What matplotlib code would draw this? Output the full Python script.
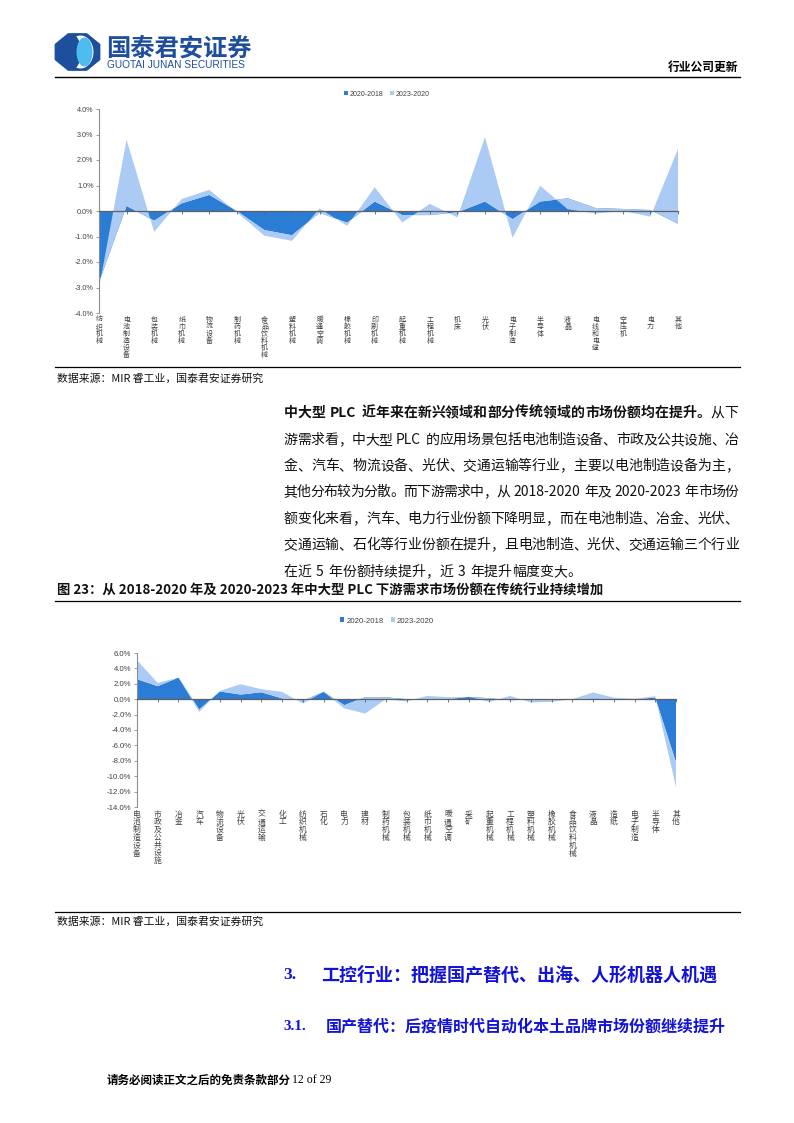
import matplotlib
matplotlib.use('Agg')
import matplotlib.pyplot as plt
from matplotlib.ticker import PercentFormatter, MultipleLocator
from matplotlib.patches import Polygon, Ellipse
from matplotlib.lines import Line2D
import numpy as np

W, H = 794, 1123
CJK = ['Noto Sans CJK SC', 'DejaVu Sans']
plt.rcParams['font.family'] = ['Liberation Sans', 'Noto Sans CJK SC', 'DejaVu Sans']
plt.rcParams['axes.unicode_minus'] = False

# ---------------- data ----------------
series_names = ['2020-2018', '2023-2020']

cats1 = ['纺织机械', '电池制造设备', '包装机械', '纸巾机械', '物流设备', '制药机械', '食品饮料机械',
         '塑料机械', '暖通空调', '橡胶机械', '印刷机械', '起重机械', '工程机械', '机床', '光伏',
         '电子制造', '半导体', '液晶', '电线和电缆', '空压机', '电力', '其他']
d1 = [-2.80, 0.20, -0.38, 0.30, 0.63, 0.00, -0.75, -0.95, -0.07, -0.46, 0.37,
      -0.16, -0.16, -0.05, 0.37, -0.32, 0.37, 0.50, 0.12, 0.08, 0.04, -0.50]
l1 = [-0.22, 2.60, -0.44, 0.17, 0.20, -0.05, -0.22, -0.22, 0.17, -0.12, 0.56,
      -0.29, 0.44, -0.20, 2.53, -0.73, 0.62, -0.43, -0.22, -0.08, -0.26, 2.93]

cats2 = ['电池制造设备', '市政及公共设施', '冶金', '汽车', '物流设备', '光伏', '交通运输', '化工',
         '纺织机械', '石化', '电力', '建材', '制药机械', '包装机械', '纸巾机械', '暖通空调', '采矿',
         '起重机械', '工程机械', '塑料机械', '橡胶机械', '食品饮料机械', '液晶', '造纸', '电子制造',
         '半导体', '其他']
d2 = [2.60, 1.69, 2.80, -1.34, 1.00, 0.60, 0.90, 0.10, -0.20, 0.95, -0.78, 0.26, 0.26, 0.00,
      0.00, 0.00, 0.30, 0.13, -0.13, -0.05, -0.05, 0.00, 0.10, 0.05, 0.00, 0.20, -8.20]
l2 = [2.45, 0.43, 0.00, -0.31, 0.08, 1.35, 0.40, 0.85, -0.36, 0.00, -0.42, -2.12, -0.26, -0.30,
      0.43, 0.26, 0.00, -0.48, 0.56, -0.38, -0.30, 0.00, 0.77, 0.15, 0.05, 0.19, -3.20]

DARK = '#2A7CD4'
LIGHT = '#ABCBF5'
BLUE_HEAD = '#1D4F9C'

fig = plt.figure(figsize=(W / 100, H / 100), dpi=100)
fig.patch.set_facecolor('white')

bg = fig.add_axes([0, 0, 1, 1], zorder=-5)
bg.set_xlim(0, W)
bg.set_ylim(H, 0)
bg.axis('off')


def fx(x):
    return x / W


def fy(y):
    return 1 - y / H


def hline(y, x0=55, x1=740, lw=0.9, color='black'):
    bg.add_line(Line2D([x0, x1], [y, y], color=color, lw=lw))


# ---------------- header ----------------
oct_pts = []
cx, cy, rx, ry = 77.5, 52, 21.5, 17.5
for k in range(8):
    a = np.pi / 8 + k * np.pi / 4
    oct_pts.append((cx + rx * np.cos(a) / np.cos(np.pi / 8), cy + ry * np.sin(a) / np.cos(np.pi / 8)))
bg.add_patch(Polygon(oct_pts, closed=True, facecolor=BLUE_HEAD, edgecolor=BLUE_HEAD, lw=2.0,
                     joinstyle='round'))
bg.add_patch(Ellipse((80.5, 52), 26, 33, facecolor='white', edgecolor='none'))
bg.add_patch(Ellipse((71.5, 52), 19, 36, facecolor=BLUE_HEAD, edgecolor='none'))
bg.add_patch(Ellipse((84.5, 52), 16, 29, facecolor='#4DBDF0', edgecolor='none'))

fig.text(fx(106), fy(48), '国泰君安证券', fontsize=17.5, fontweight='bold', color=BLUE_HEAD,
         family=CJK, va='center', ha='left')
fig.text(fx(107), fy(64.5), 'GUOTAI JUNAN SECURITIES', fontsize=7.3, color=BLUE_HEAD,
         family=['Liberation Sans'], va='center', ha='left')
fig.text(fx(738), fy(67), '行业公司更新', fontsize=8.5, fontweight='bold', color='black',
         family=CJK, va='center', ha='right')
hline(77, lw=1.0)


# ---------------- charts ----------------
def area_chart(left, top, right, bottom, cats, dark, light, ylim, ystep, tickfs, labfs, pitch,
               leg_xy, legfs):
    ax = fig.add_axes([fx(left), fy(bottom), (right - left) / W, (bottom - top) / H])
    x = np.arange(len(cats))
    polys = ax.stackplot(x, dark, light, colors=[DARK, LIGHT], linewidth=0)
    ax.set_xlim(0, len(cats) - 1)
    ax.set_ylim(*ylim)
    ax.yaxis.set_major_locator(MultipleLocator(ystep))
    ax.yaxis.set_major_formatter(PercentFormatter(xmax=100, decimals=1))
    for s in ['top', 'right']:
        ax.spines[s].set_visible(False)
    ax.spines['left'].set_color('#8c8c8c')
    ax.spines['left'].set_linewidth(0.8)
    ax.spines['bottom'].set_position(('data', 0))
    ax.spines['bottom'].set_color('#5f5f5f')
    ax.spines['bottom'].set_linewidth(0.9)
    ax.spines['bottom'].set_zorder(5)
    ax.set_xticks(x)
    ax.tick_params(axis='x', direction='out', length=2.5, width=0.6, color='#5f5f5f', labelbottom=False)
    ax.tick_params(axis='y', direction='out', length=2.5, width=0.6, color='#8c8c8c',
                   labelsize=tickfs, labelcolor='#404040', pad=1.5)
    ax.patch.set_alpha(0)
    for i, c in enumerate(cats):
        for k, ch in enumerate(c):
            ax.annotate(ch, xy=(i, 0), xycoords=('data', 'axes fraction'),
                        xytext=(0, -2.0 - 0.88 * labfs - k * pitch), textcoords='offset points',
                        ha='center', va='baseline',
                        fontsize=labfs, family=CJK, color='#404040')
    fig.legend(polys, series_names, loc='center', bbox_to_anchor=(fx(leg_xy[0]), fy(leg_xy[1])),
               ncol=2, frameon=False, fontsize=legfs, handlelength=0.55, handleheight=0.55,
               handletextpad=0.25, columnspacing=0.9, labelcolor='#404040', borderpad=0)
    return ax


area_chart(99, 109, 678, 313, cats1, d1, l1, (-4, 4), 1, 5.2, 5.0, 5.0, (387, 94), 5.0)
hline(367, lw=0.9)
fig.text(fx(57), fy(379), '数据来源：MIR 睿工业，国泰君安证券研究', fontsize=7.8, family=CJK,
         va='center', ha='left', color='#111111')

# ---------------- paragraph ----------------
para = [
    [('中大型 PLC 近年来在新兴领域和部分传统领域的市场份额均在提升。', 'bold'), ('从下', 'normal')],
    [('游需求看，中大型 PLC 的应用场景包括电池制造设备、市政及公共设施、冶', 'normal')],
    [('金、汽车、物流设备、光伏、交通运输等行业，主要以电池制造设备为主，', 'normal')],
    [('其他分布较为分散。而下游需求中，从 2018-2020 年及 2020-2023 年市场份', 'normal')],
    [('额变化来看，汽车、电力行业份额下降明显，而在电池制造、冶金、光伏、', 'normal')],
    [('交通运输、石化等行业份额在提升，且电池制造、光伏、交通运输三个行业', 'normal')],
    [('在近 5 年份额持续提升，近 3 年提升幅度变大。', 'normal')],
]
renderer = fig.canvas.get_renderer()
PFS = 10.0


def tokenize(segs):
    toks = []
    for text, w in segs:
        buf = ''
        for ch in text:
            if ord(ch) < 128 and ch != ' ':
                buf += ch
            else:
                if buf:
                    toks.append((buf, w, 'lat'))
                    buf = ''
                toks.append((ch, w, 'sp' if ch == ' ' else 'cjk'))
        if buf:
            toks.append((buf, w, 'lat'))
    return toks


def draw_line(segs, x0, x1, y, justify, fs=PFS):
    toks = tokenize(segs)
    em = fs * 100 / 72.0
    widths = []
    artists = []
    for t, w, kind in toks:
        if kind == 'sp':
            widths.append(0.3 * em)
            artists.append(None)
            continue
        a = fig.text(0, fy(y), t, fontsize=fs, fontweight=w, family=CJK, va='center', ha='left',
                     color='#111111')
        if kind == 'cjk':
            widths.append(em)
        else:
            widths.append(a.get_window_extent(renderer).width + 0.06 * em)
        artists.append(a)
    total = sum(widths)
    gap = (x1 - x0 - total) / (len(toks) - 1) if justify and len(toks) > 1 else 0
    x = x0
    for (t, w, kind), wd, a in zip(toks, widths, artists):
        if a is not None:
            off = 0.04 * em if kind == 'cjk' else 0.03 * em
            a.set_x(fx(x + off))
        x += wd + gap


ys = [413, 440, 466, 492, 519, 545, 572]
for i, (segs, y) in enumerate(zip(para, ys)):
    draw_line(segs, 283, 738, y, justify=(i < len(para) - 1))

fig.text(fx(57), fy(591), '图 23：从 2018-2020 年及 2020-2023 年中大型 PLC 下游需求市场份额在传统行业持续增加',
         fontsize=9.6, fontweight='bold', family=CJK, va='center', ha='left', color='#111111')
hline(601, lw=0.9)

area_chart(137, 653, 676, 807, cats2, d2, l2, (-14, 6), 2, 5.6, 5.6, 5.6, (387, 621), 5.6)
hline(912, lw=0.9)
fig.text(fx(57), fy(922), '数据来源：MIR 睿工业，国泰君安证券研究', fontsize=7.8, family=CJK,
         va='center', ha='left', color='#111111')

# ---------------- headings ----------------
HB = '#1212D8'
fig.text(fx(283), fy(975), '3.', fontsize=12.5, fontweight='bold', family=['Liberation Serif'],
         va='center', ha='left', color=HB)
fig.text(fx(321), fy(975), '工控行业：把握国产替代、出海、人形机器人机遇', fontsize=13, fontweight='bold',
         family=CJK, va='center', ha='left', color=HB)
fig.text(fx(283), fy(1027), '3.1.', fontsize=11, fontweight='bold', family=['Liberation Serif'],
         va='center', ha='left', color=HB)
fig.text(fx(326), fy(1027), '国产替代：后疫情时代自动化本土品牌市场份额继续提升', fontsize=11.5, fontweight='bold',
         family=CJK, va='center', ha='left', color=HB)

fig.text(fx(107), fy(1080), '请务必阅读正文之后的免责条款部分', fontsize=8.3, fontweight='bold',
         family=CJK, va='center', ha='left', color='black')
fig.text(fx(292), fy(1080), '12 of 29', fontsize=8.5, family=['Liberation Serif'],
         va='center', ha='left', color='black')

fig.savefig('out.png', dpi=100, facecolor='white')
